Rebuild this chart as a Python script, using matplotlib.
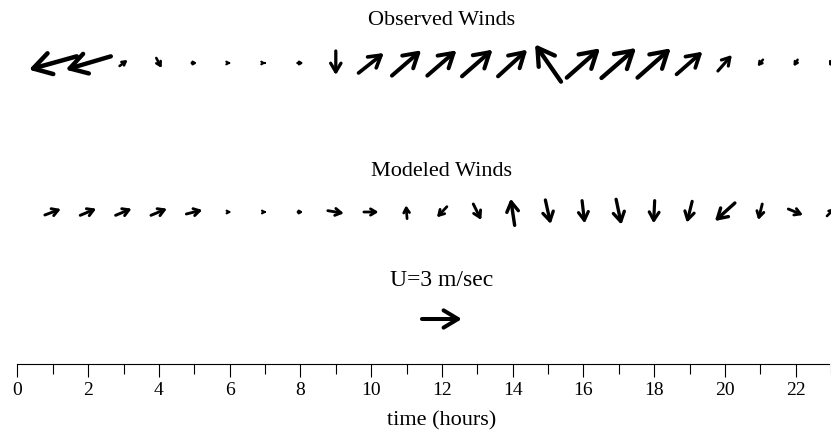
import numpy as np
import matplotlib
matplotlib.use('Agg')
import matplotlib.pyplot as plt
from matplotlib.patches import ArrowStyle

plt.rcParams['font.family'] = ['Liberation Serif', 'DejaVu Serif']

# hourly winds (m/s), hour 1..23
hours = np.arange(1, 24)
obs_u = [-3.6, -3.4, 0.6, 0.4, 0.4, 0.15, 0.08, 0.45, 0.0, 1.9, 2.2, 2.2,
         2.3, 2.2, -1.95, 2.5, 2.6, 2.5, 1.95, 1.05, -0.4, -0.3, -0.25]
obs_v = [-1.0, -1.0, 0.45, -0.75, 0.0, 0.0, 0.0, 0.0, -1.8, 1.5, 1.9, 1.9,
         2.0, 2.0, 2.8, 2.2, 2.25, 2.2, 1.7, 1.2, -0.5, -0.5, -0.5]
mod_u = [1.2, 1.2, 1.2, 1.2, 1.2, 0.2, 0.2, 0.4, 1.2, 1.1, -0.08, -0.75,
         0.6, -0.3, 0.4, 0.2, 0.4, -0.08, -0.4, -1.5, -0.3, 1.1, 0.6]
mod_v = [0.45, 0.5, 0.5, 0.5, 0.3, 0.0, 0.0, 0.0, -0.2, 0.0, 1.0, -0.8,
         -1.2, 2.0, -1.8, -1.7, -1.9, -1.7, -1.6, -1.35, -1.2, -0.45, 0.6]
ref_hour = 12
ref_u, ref_v = 3.0, 0.0

W, H = 831, 435
PX = 35.45            # pixels per hour
x0 = -17.5 / PX
x1 = x0 + W / PX
S = 40 / 3 / PX       # hours per m/s (3 m/s arrow is 40 px)


def row(py):
    return (H - py) / PX


fig = plt.figure(figsize=(W / 100, H / 100), dpi=100)
ax = fig.add_axes([0, 0, 1, 1])
ax.set_xlim(x0, x1)
ax.set_ylim(0, H / PX)


def draw_winds(hrs, u, v, y):
    for h, uu, vv in zip(hrs, u, v):
        L = np.hypot(uu, vv) * S * PX
        if L == 0:
            continue
        lw = 1.5 + 0.035 * L
        hl = max(0.36 * L, 2.2) * 0.72
        style = ArrowStyle('->', head_length=hl, head_width=0.6 * hl)
        dx, dy = uu * S / 2, vv * S / 2
        ax.annotate('', xy=(h + dx, y + dy), xytext=(h - dx, y - dy),
                    arrowprops=dict(arrowstyle=style, mutation_scale=1,
                                    lw=lw, color='black',
                                    shrinkA=0, shrinkB=0),
                    annotation_clip=False)


draw_winds(hours, obs_u, obs_v, row(64))
draw_winds(hours, mod_u, mod_v, row(213))
draw_winds([ref_hour], [ref_u], [ref_v], row(320))

ax.text(12, row(20), 'Observed Winds', ha='center', va='center', fontsize=16)
ax.text(12, row(172), 'Modeled Winds', ha='center', va='center', fontsize=16)
ax.text(12, row(280), 'U=3 m/sec', ha='center', va='center', fontsize=17)

# time axis
for s in ['left', 'right', 'top']:
    ax.spines[s].set_visible(False)
ax.spines['bottom'].set_position(('data', row(365)))
ax.spines['bottom'].set_bounds(0, x1)
ax.spines['bottom'].set_linewidth(0.8)
ax.set_xticks(np.arange(0, 23, 2))
ax.set_xticks(np.arange(0, 24, 1), minor=True)
ax.tick_params(axis='x', which='major', direction='out', length=9,
               width=0.8, labelsize=14, pad=3)
ax.tick_params(axis='x', which='minor', direction='out', length=7, width=0.8)
ax.set_yticks([])
ax.text(12, row(421), 'time (hours)', ha='center', va='center', fontsize=16)

fig.savefig('out.png', dpi=100)
